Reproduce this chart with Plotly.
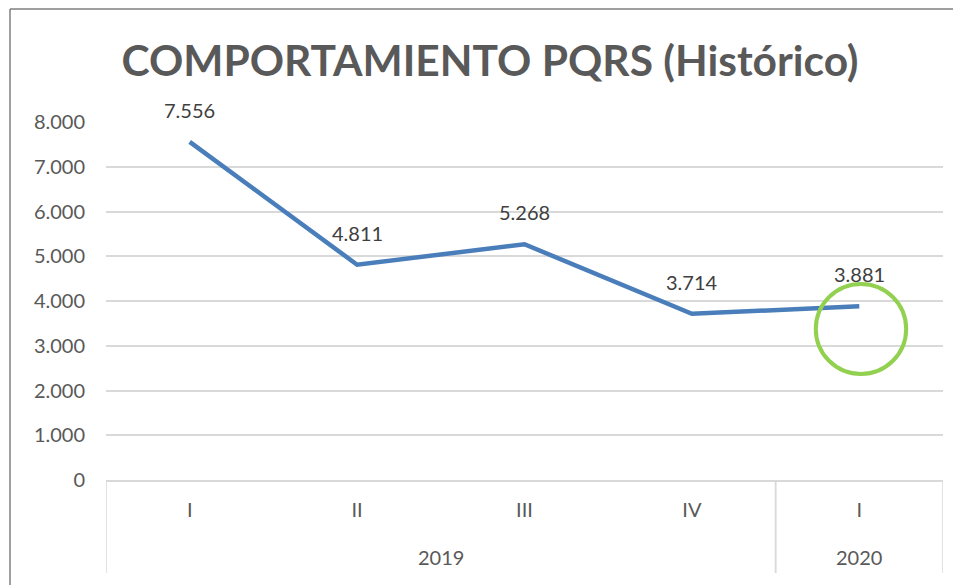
import plotly.graph_objects as go

years = ["2019", "2019", "2019", "2019", "2020"]
quarters = ["I", "II", "III", "IV", "I"]
values = [7556, 4811, 5268, 3714, 3881]
y_ticks = [0, 1000, 2000, 3000, 4000, 5000, 6000, 7000, 8000]
title_text = "COMPORTAMIENTO PQRS (Histórico)"

FONT = "Lato, Carlito, Calibri, sans-serif"
# the page body has an 8px margin, so the figure is sized to fill the rest
W, H = 953, 577
ML, MR, MT, MB = 98, 18, 114, 105
PW, PH = W - ML - MR, H - MT - MB
GRID = "#d9d9d9"
TXT = "#595959"

xpos = list(range(len(values)))

fig = go.Figure()
fig.add_trace(go.Scatter(
    x=xpos, y=values, mode="lines",
    line=dict(color="#4a7ebb", width=4.5),
    hoverinfo="skip", showlegend=False,
))

# data labels
for i, v in enumerate(values):
    fig.add_annotation(
        x=i, y=v, xref="x", yref="y",
        text=f"{v:,}".replace(",", "."), showarrow=False,
        yshift=32, font=dict(family=FONT, size=20, color="#404040"),
    )

# year group labels and dividers
groups = []
for i, yr in enumerate(years):
    if not groups or groups[-1][0] != yr:
        groups.append([yr, i, i])
    else:
        groups[-1][2] = i
div_bottom = -93 / PH
for yr, a, b in groups:
    fig.add_annotation(x=(a + b) / 2, y=0, xref="x", yref="paper",
                       text=yr, showarrow=False, yanchor="middle",
                       yshift=-77, font=dict(family=FONT, size=20, color=TXT))
    for xb in (a - 0.5, b + 0.5):
        fig.add_shape(type="line", xref="x", yref="paper", x0=xb, x1=xb,
                      y0=0, y1=div_bottom, line=dict(color=GRID, width=1.5))

# highlight circle around the last point
last = len(values) - 1
fig.add_shape(type="circle", xref="x", yref="y",
              x0=last - 0.26, x1=last + 0.28,
              y0=values[last] - 1510, y1=values[last] + 500,
              line=dict(color="#92d050", width=4))

# outer frame (top and left edges visible)
fx = (2 - ML) / PW
fy = 1 + (MT - 1) / PH
fig.add_shape(type="line", xref="paper", yref="paper",
              x0=fx, x1=(W - ML) / PW, y0=fy, y1=fy,
              line=dict(color="#7f7f7f", width=1.5))
fig.add_shape(type="line", xref="paper", yref="paper",
              x0=fx, x1=fx, y0=fy, y1=-MB / PH,
              line=dict(color="#7f7f7f", width=1.5))

fig.update_layout(
    width=W, height=H,
    margin=dict(l=ML, r=MR, t=MT, b=MB, autoexpand=False),
    paper_bgcolor="white", plot_bgcolor="white",
    separators=",.",
    title=dict(text=f"<b>{title_text}</b>", x=482 / W, xanchor="center",
               y=1 - 53 / H, yanchor="middle",
               font=dict(family=FONT, size=42.5, color=TXT)),
    font=dict(family=FONT, size=20, color=TXT),
    xaxis=dict(range=[-0.5, len(values) - 0.5], tickvals=xpos, ticktext=quarters,
               showgrid=False, showline=True, linecolor=GRID, linewidth=1.5,
               zeroline=False, ticks="", ticklabelstandoff=11, automargin=False,
               tickfont=dict(family=FONT, size=20, color=TXT)),
    yaxis=dict(range=[0, 8000], tickvals=y_ticks, tickformat=",d",
               showgrid=True, gridcolor=GRID, gridwidth=1.5,
               zeroline=False, ticks="", ticklabelstandoff=20, automargin=False,
               tickfont=dict(family=FONT, size=20, color=TXT)),
)

fig.write_html("out.html")
